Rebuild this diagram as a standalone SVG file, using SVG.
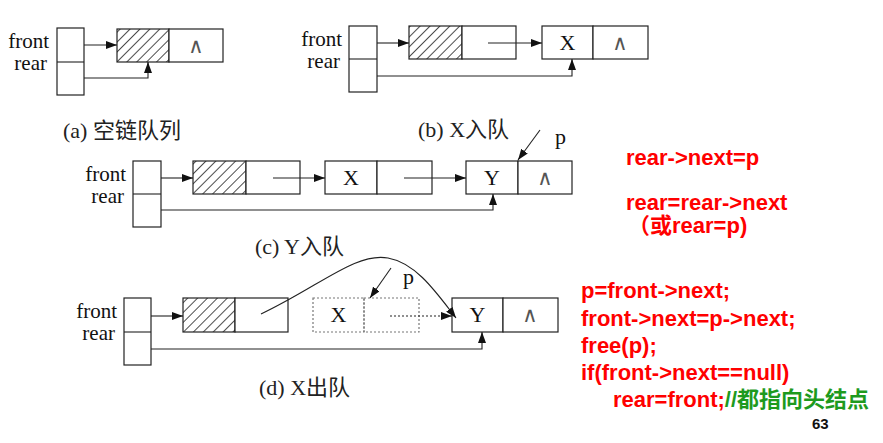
<svg xmlns="http://www.w3.org/2000/svg" width="883" height="443" viewBox="0 0 883 443">
<style>
.bx{fill:#fff;stroke:#222;stroke-width:1.2}
.ht{fill:url(#hatch);stroke:#222;stroke-width:1.2}
.dt{fill:none;stroke:#777;stroke-width:1.2;stroke-dasharray:2 2}
.ln{fill:none;stroke:#222;stroke-width:1.1}
.ar{fill:none;stroke:#222;stroke-width:1.1;marker-end:url(#ah)}
.lbl{font-family:"Liberation Serif","Noto Sans CJK SC",serif;font-size:22px;fill:#111}
.hd{font-family:"Liberation Serif",serif;font-size:21px;fill:#111}
.sym{font-family:"DejaVu Sans ExtraLight","DejaVu Sans",sans-serif;font-size:21px;fill:#555}
.cap{font-family:"Liberation Serif","Noto Sans CJK SC",serif;font-size:22px;fill:#222}
.red{font-family:"Liberation Sans","Noto Sans CJK SC",sans-serif;font-size:22px;font-weight:bold;fill:#ff0000}
.grn{fill:#1e9a1e}
</style>
<defs>
<pattern id="hatch" patternUnits="userSpaceOnUse" width="7" height="7" patternTransform="rotate(45)">
<rect width="7" height="7" fill="#fff"/>
<line x1="0" y1="0" x2="0" y2="7" stroke="#111" stroke-width="1.5"/>
</pattern>
<marker id="ah" markerUnits="userSpaceOnUse" viewBox="0 0 11 8" refX="11" refY="4" markerWidth="11" markerHeight="8" orient="auto">
<path d="M0,0 L11,4 L0,8 z" fill="#111"/>
</marker>
</defs>

<!-- (a) -->
<g id="a-head">
<rect class="bx" x="57" y="28" width="27" height="67"/>
<line class="ln" x1="57" y1="62" x2="84" y2="62"/>
<text class="hd" x="49" y="48" text-anchor="end">front</text>
<text class="hd" x="47" y="70" text-anchor="end">rear</text>
</g>
<g id="a-node">
<rect class="ht" x="117" y="29" width="52" height="33"/>
<rect class="bx" x="169" y="29" width="54" height="33"/>
<text class="sym" x="196" y="53" text-anchor="middle">∧</text>
</g>
<text class="cap" x="63" y="138">(a) 空链队列</text>

<!-- (b) -->
<g id="b-head">
<rect class="bx" x="349" y="26" width="28" height="66"/>
<line class="ln" x1="349" y1="59" x2="377" y2="59"/>
<text class="hd" x="342" y="46" text-anchor="end">front</text>
<text class="hd" x="340" y="68" text-anchor="end">rear</text>
</g>
<g id="b-node1">
<rect class="ht" x="409" y="26" width="53" height="33"/>
<rect class="bx" x="462" y="26" width="54" height="33"/>
</g>
<g id="b-nodeX">
<rect class="bx" x="542" y="26" width="51" height="33"/>
<rect class="bx" x="593" y="26" width="55" height="33"/>
<text class="lbl" x="567.5" y="50" text-anchor="middle">X</text>
<text class="sym" x="620" y="50" text-anchor="middle">∧</text>
</g>
<text class="cap" x="418" y="137">(b) X入队</text>

<!-- (c) -->
<g id="c-head">
<rect class="bx" x="133" y="161" width="28" height="66"/>
<line class="ln" x1="133" y1="194" x2="161" y2="194"/>
<text class="hd" x="126" y="181" text-anchor="end">front</text>
<text class="hd" x="124" y="203" text-anchor="end">rear</text>
</g>
<g id="c-node1">
<rect class="ht" x="193" y="161" width="53" height="33"/>
<rect class="bx" x="246" y="161" width="54" height="33"/>
</g>
<g id="c-nodeX">
<rect class="bx" x="325" y="161" width="52" height="33"/>
<rect class="bx" x="377" y="161" width="55" height="33"/>
<text class="lbl" x="351" y="185" text-anchor="middle">X</text>
</g>
<g id="c-nodeY">
<rect class="bx" x="466" y="161" width="52" height="33"/>
<rect class="bx" x="518" y="161" width="54" height="33"/>
<text class="lbl" x="492" y="185" text-anchor="middle">Y</text>
<text class="sym" x="545" y="185" text-anchor="middle">∧</text>
</g>
<text class="lbl" x="555" y="144">p</text>
<text class="cap" x="255" y="254">(c) Y入队</text>

<!-- (d) -->
<g id="d-head">
<rect class="bx" x="124" y="298" width="27" height="67"/>
<line class="ln" x1="124" y1="332" x2="151" y2="332"/>
<text class="hd" x="117" y="318" text-anchor="end">front</text>
<text class="hd" x="115" y="340" text-anchor="end">rear</text>
</g>
<g id="d-node1">
<rect class="ht" x="183" y="298" width="52" height="34"/>
<rect class="bx" x="235" y="298" width="53" height="34"/>
</g>
<g id="d-nodeX">
<rect class="dt" x="313" y="298" width="51" height="34"/>
<rect class="dt" x="364" y="298" width="55" height="34"/>
<text class="lbl" x="338.5" y="322" text-anchor="middle">X</text>
</g>
<g id="d-nodeY">
<rect class="bx" x="452" y="298" width="51" height="34"/>
<rect class="bx" x="503" y="298" width="55" height="34"/>
<text class="lbl" x="477.5" y="322" text-anchor="middle">Y</text>
<text class="sym" x="530" y="322" text-anchor="middle">∧</text>
</g>
<text class="lbl" x="403" y="284">p</text>
<text class="cap" x="259" y="395">(d) X出队</text>

<!-- connectors -->
<g id="connectors">
<line class="ar" x1="84" y1="45" x2="117" y2="45"/>
<polyline class="ar" points="84,78 148,78 148,62"/>
<line class="ar" x1="377" y1="43" x2="409" y2="43"/>
<line class="ar" x1="488" y1="43" x2="542" y2="43"/>
<polyline class="ar" points="377,76 572,76 572,59"/>
<line class="ar" x1="161" y1="178" x2="193" y2="178"/>
<line class="ar" x1="273" y1="178" x2="325" y2="178"/>
<line class="ar" x1="404" y1="178" x2="466" y2="178"/>
<polyline class="ar" points="161,210 493,210 493,194"/>
<line class="ar" x1="540" y1="130" x2="518" y2="160"/>
<line class="ar" x1="151" y1="316" x2="183" y2="316"/>
<line class="ar" x1="390" y1="316" x2="452" y2="316" stroke-dasharray="2 2"/>
<path class="ar" d="M261,314 C320,286 356,252 388,258 C416,263 436,292 456,318"/>
<polyline class="ar" points="151,349 482,349 482,332"/>
<line class="ar" x1="391" y1="268" x2="370" y2="298"/>
</g>

<!-- code -->
<g id="code">
<text class="red" x="626" y="165">rear-&gt;next=p</text>
<text class="red" x="626" y="210">rear=rear-&gt;next</text>
<text class="red" x="628" y="233">（或rear=p)</text>
<text class="red" x="581" y="298">p=front-&gt;next;</text>
<text class="red" x="581" y="326">front-&gt;next=p-&gt;next;</text>
<text class="red" x="581" y="353">free(p);</text>
<text class="red" x="581" y="380">if(front-&gt;next==null)</text>
<text class="red" x="613" y="407">rear=front;<tspan class="grn">//都指向头结点</tspan></text>
<text x="812" y="429" font-family="Liberation Sans,sans-serif" font-size="15" font-weight="bold" fill="#111">63</text>
</g>
</svg>
